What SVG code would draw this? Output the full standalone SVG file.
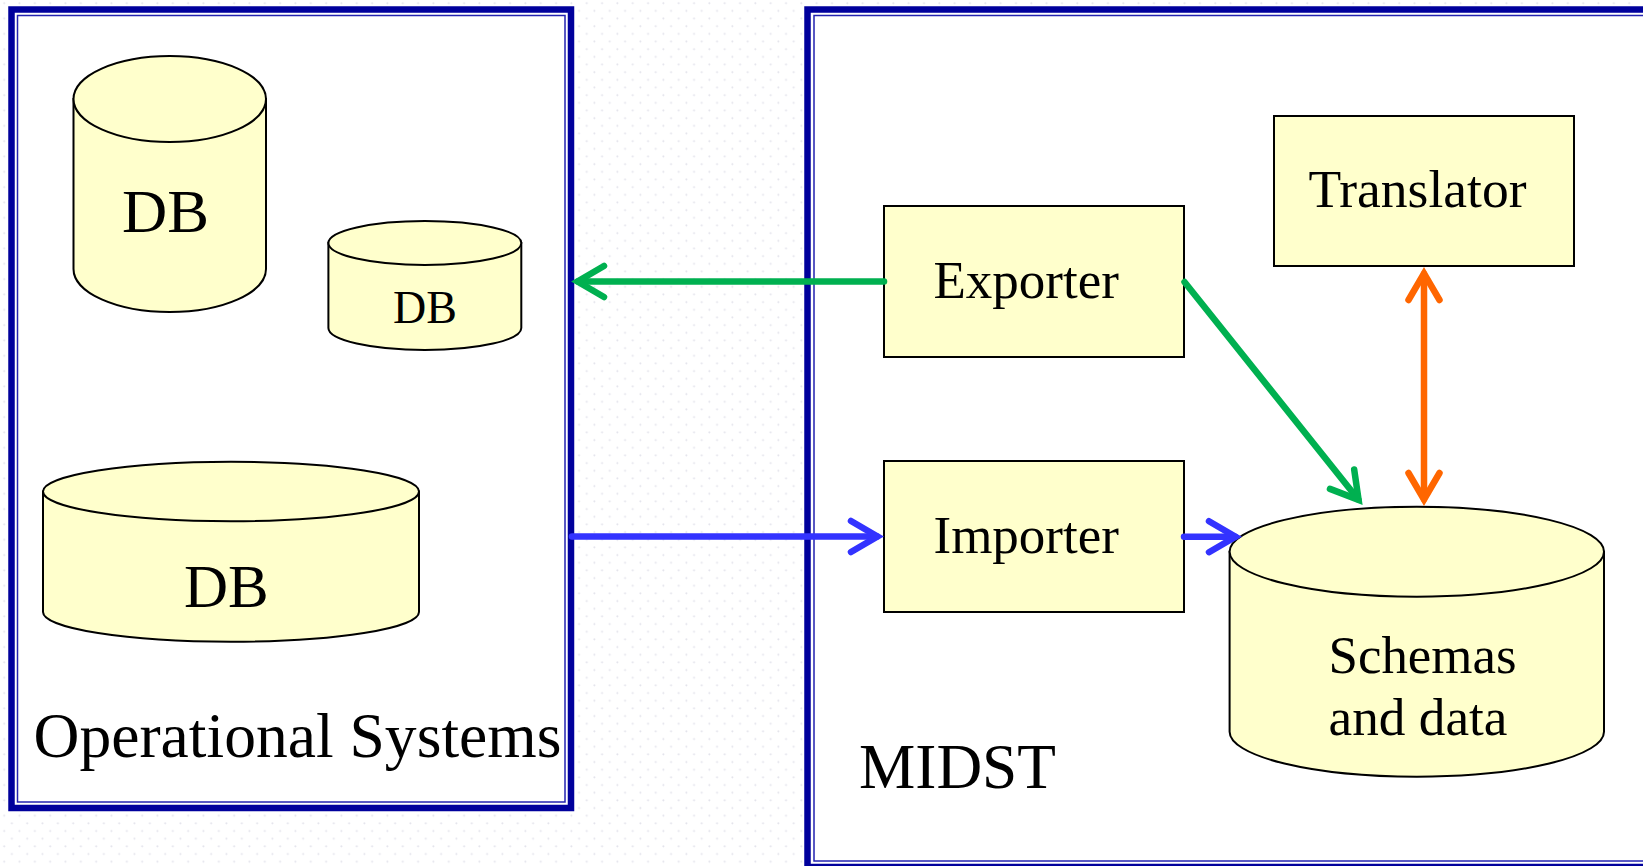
<svg xmlns="http://www.w3.org/2000/svg" width="1643" height="866" viewBox="0 0 1643 866">
  <style>
    .frame-outer { fill: #ffffff; stroke: #00009c; stroke-width: 6.5; }
    .frame-inner { fill: none; stroke: #2222b0; stroke-width: 1.5; }
    .store { fill: #ffffcc; stroke: #000000; stroke-width: 2; }
    .box { fill: #ffffcc; stroke: #000000; stroke-width: 2; }
    .label { font-family: "Liberation Serif", "Times New Roman", serif; fill: #000000; }
    .link { fill: none; stroke-width: 6.5; stroke-linecap: round; }
    .green { stroke: #00b050; }
    .blue { stroke: #3333ff; }
    .orange { stroke: #ff6600; }
  </style>
  <defs>
    <pattern id="dots" patternUnits="userSpaceOnUse" width="15.33" height="15.33">
      <circle cx="4.2" cy="3.2" r="1" fill="#e4e4ec"/>
      <circle cx="11.87" cy="10.87" r="1" fill="#e4e4ec"/>
    </pattern>
    <marker id="head-green" markerUnits="userSpaceOnUse" orient="auto-start-reverse" markerWidth="60" markerHeight="60" refX="0" refY="0" viewBox="-40 -30 60 60" overflow="visible">
      <path d="M -26 -15.5 L 0.5 0 L -26 15.5" fill="none" stroke="#00b050" stroke-width="6.5" stroke-linecap="round" stroke-linejoin="miter"/>
    </marker>
    <marker id="head-blue" markerUnits="userSpaceOnUse" orient="auto-start-reverse" markerWidth="60" markerHeight="60" refX="0" refY="0" viewBox="-40 -30 60 60" overflow="visible">
      <path d="M -26 -15.5 L 0.5 0 L -26 15.5" fill="none" stroke="#3333ff" stroke-width="6.5" stroke-linecap="round" stroke-linejoin="miter"/>
    </marker>
    <marker id="head-orange" markerUnits="userSpaceOnUse" orient="auto-start-reverse" markerWidth="60" markerHeight="60" refX="0" refY="0" viewBox="-40 -30 60 60" overflow="visible">
      <path d="M -26 -15.5 L 0.5 0 L -26 15.5" fill="none" stroke="#ff6600" stroke-width="6.5" stroke-linecap="round" stroke-linejoin="miter"/>
    </marker>
  </defs>

  <!-- page background with a fine dot texture -->
  <rect x="0" y="0" width="1643" height="866" fill="#ffffff"/>
  <rect x="0" y="0" width="1643" height="866" fill="url(#dots)"/>

  <!-- Operational Systems frame -->
  <g id="operational-systems">
    <rect class="frame-outer" x="11.5" y="9.5" width="559.5" height="798.5"/>
    <rect class="frame-inner" x="17.5" y="15.5" width="547.5" height="786.5"/>
    <text class="label" x="33.5" y="756.7" font-size="63" textLength="528" lengthAdjust="spacingAndGlyphs">Operational Systems</text>
  </g>

  <!-- MIDST frame -->
  <g id="midst">
    <rect class="frame-outer" x="807.5" y="9.5" width="900" height="857.5"/>
    <rect class="frame-inner" x="814" y="15.5" width="900" height="845.5"/>
    <text class="label" x="859" y="787.7" font-size="62.5" textLength="197" lengthAdjust="spacingAndGlyphs">MIDST</text>
  </g>

  <!-- operational databases -->
  <g id="db-tall">
    <path class="store" d="M 73.5 99 L 73.5 269 A 96.25 43 0 0 0 266 269 L 266 99 Z"/>
    <ellipse class="store" cx="169.75" cy="99" rx="96.25" ry="43"/>
    <text class="label" x="122" y="232" font-size="62" textLength="87" lengthAdjust="spacingAndGlyphs">DB</text>
  </g>

  <g id="db-small">
    <path class="store" d="M 328.4 243 L 328.4 328 A 96.45 22 0 0 0 521.3 328 L 521.3 243 Z"/>
    <ellipse class="store" cx="424.85" cy="243" rx="96.45" ry="22"/>
    <text class="label" x="393" y="322.7" font-size="46">DB</text>
  </g>

  <g id="db-wide">
    <path class="store" d="M 43 491.5 L 43 612 A 188 29.8 0 0 0 419 612 L 419 491.5 Z"/>
    <ellipse class="store" cx="231" cy="491.5" rx="188" ry="29.8"/>
    <text class="label" x="184" y="606.7" font-size="61">DB</text>
  </g>

  <!-- MIDST components -->
  <g id="exporter">
    <rect class="box" x="884" y="206" width="300" height="151"/>
    <text class="label" x="933.5" y="297.7" font-size="53">Exporter</text>
  </g>

  <g id="translator">
    <rect class="box" x="1274" y="116" width="300" height="150"/>
    <text class="label" x="1308.5" y="206.7" font-size="52.5" textLength="218" lengthAdjust="spacingAndGlyphs">Translator</text>
  </g>

  <g id="importer">
    <rect class="box" x="884" y="461" width="300" height="151"/>
    <text class="label" x="933.5" y="552.7" font-size="53">Importer</text>
  </g>

  <g id="schemas-and-data">
    <path class="store" d="M 1229.6 551.7 L 1229.6 731.7 A 187.2 45 0 0 0 1604 731.7 L 1604 551.7 Z"/>
    <ellipse class="store" cx="1416.8" cy="551.7" rx="187.2" ry="45"/>
    <text class="label" x="1328.5" y="672.7" font-size="52.5" textLength="188" lengthAdjust="spacingAndGlyphs">Schemas</text>
    <text class="label" x="1328.5" y="735" font-size="52.5" textLength="179" lengthAdjust="spacingAndGlyphs">and data</text>
  </g>

  <!-- data flows -->
  <g id="connectors">
    <line class="link green" x1="884" y1="281.5" x2="578" y2="281.5" marker-end="url(#head-green)"/>
    <line class="link green" x1="1184.5" y1="282" x2="1358.3" y2="499.5" marker-end="url(#head-green)"/>
    <line class="link blue" x1="572" y1="536.5" x2="877" y2="536.5" marker-end="url(#head-blue)"/>
    <line class="link blue" x1="1184" y1="536.7" x2="1235" y2="536.7" marker-end="url(#head-blue)"/>
    <line class="link orange" x1="1424" y1="274" x2="1424" y2="499" marker-start="url(#head-orange)" marker-end="url(#head-orange)"/>
  </g>
</svg>
